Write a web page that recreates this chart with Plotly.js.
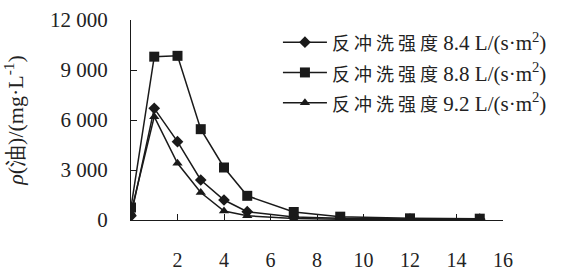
<!DOCTYPE html>
<html>
<head>
<meta charset="utf-8">
<script src="https://cdn.plot.ly/plotly-3.0.1.min.js"></script>
<style>
  html, body { margin: 0; padding: 0; background: #fff; }
  #chart { width: 566px; height: 273px; }
  /* serif faces for every chart label */
  #chart svg text { font-family: 'Liberation Serif', serif !important; fill: #222 !important; }
  #chart .xtick text { font-size: 20px !important; }
  #chart .ytick text { font-size: 21px !important; }
  #chart .legendtext { font-size: 21px !important; }
  #chart .ytitle { font-size: 22px !important; }
</style>
</head>
<body>
<div id="chart"></div>
<script>
// Backwash time (min) and oil concentration in the effluent (mg/L)
const timeMin = [0, 1, 2, 3, 4, 5, 7, 9, 12, 15];
const oil84 = [250, 6700, 4700, 2400, 1200, 500, 180, 100, 60, 50];
const oil88 = [750, 9800, 9850, 5450, 3150, 1450, 480, 200, 100, 80];
const oil92 = [450, 6200, 3400, 1650, 540, 250, 90, 50, 40, 30];

const seriesNames = ['8.4', '8.8', '9.2'];
const xTickVals = [2, 4, 6, 8, 10, 12, 14, 16];
const yTickVals = [0, 3000, 6000, 9000, 12000];
const yTickText = ['0', '3 000', '6 000', '9 000', '12 000'];

const serif = 'Liberation Serif';
const textColor = '#222';
const ink = '#1a1a1a';

function legendLabel(v) {
  return '<span style="font-family:Noto Sans CJK SC;font-size:18px">反 冲 洗 强 度</span> ' +
    v + ' L/(s·m<sup>2</sup>)';
}

const base = { mode: 'lines+markers', line: { color: ink, width: 1.5 }, x: timeMin };

const traces = [
  Object.assign({}, base, { y: oil84, name: legendLabel(seriesNames[0]),
    marker: { symbol: 'diamond', size: 9, color: ink } }),
  Object.assign({}, base, { y: oil88, name: legendLabel(seriesNames[1]),
    marker: { symbol: 'square', size: 10, color: ink } }),
  Object.assign({}, base, { y: oil92, name: legendLabel(seriesNames[2]),
    marker: { symbol: 'triangle-up', size: 9, color: ink } })
];

const layout = {
  width: 566, height: 273,
  margin: { l: 131, r: 63, t: 20, b: 53, pad: 0 },
  font: { family: serif, size: 19, color: textColor },
  showlegend: true,
  legend: {
    x: 0.395, y: 0.99, xanchor: 'left', yanchor: 'top',
    itemwidth: 44,
    font: { family: serif, size: 21, color: textColor }
  },
  xaxis: {
    range: [0, 16], tickvals: xTickVals, ticks: 'inside', ticklen: 6, tickwidth: 1,
    tickcolor: ink, showline: true, linecolor: ink, linewidth: 1,
    showgrid: false, zeroline: false, ticklabelstandoff: 22,
    tickfont: { family: serif, size: 20, color: textColor }
  },
  yaxis: {
    range: [0, 12000], tickvals: yTickVals, ticktext: yTickText, ticks: 'inside',
    ticklen: 6, tickwidth: 1, tickcolor: ink, showline: true, linecolor: ink,
    linewidth: 1, showgrid: false, zeroline: false, ticklabelstandoff: 18,
    tickfont: { family: serif, size: 21, color: textColor },
    title: {
      text: '<i>ρ</i>(油)/(mg·L<sup>-1</sup>)',
      font: { family: serif, size: 22, color: textColor },
      standoff: 20
    }
  }
};

// Make sure every label carries its serif face and size
function applyTextStyles() {
  const gd = document.getElementById('chart');
  const rules = [
    ['.xtick text', 20], ['.ytick text', 21], ['.legendtext', 21], ['.ytitle', 22]
  ];
  rules.forEach(function (r) {
    gd.querySelectorAll(r[0]).forEach(function (el) {
      el.style.fontFamily = serif;
      el.style.fontSize = r[1] + 'px';
      el.style.fill = textColor;
    });
  });
}

try {
  const p = Plotly.newPlot('chart', traces, layout, { displayModeBar: false });
  if (p && p.then) p.then(applyTextStyles, applyTextStyles);
} catch (e) {
  applyTextStyles();
}
setTimeout(applyTextStyles, 30);
</script>
</body>
</html>
